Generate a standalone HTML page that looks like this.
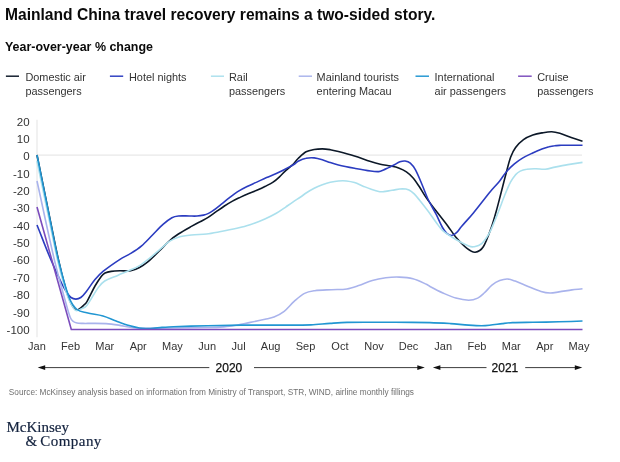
<!DOCTYPE html>
<html><head><meta charset="utf-8"><title>Mainland China travel recovery</title>
<style>
html,body{margin:0;padding:0;background:#fff}
body{width:620px;height:462px;position:relative;overflow:hidden;font-family:"Liberation Sans",sans-serif;color:#111}
.t{position:absolute;left:5px;top:5.9px;font-size:15.6px;font-weight:bold;line-height:18px;white-space:nowrap;color:#0a0a0a}
.s{position:absolute;left:5px;top:39.5px;font-size:12.45px;font-weight:bold;line-height:14px;white-space:nowrap;color:#0a0a0a}
.lg{position:absolute;top:70.9px;font-size:10.9px;line-height:13.7px;color:#333;white-space:nowrap}
.src{position:absolute;left:8.8px;top:386.8px;font-size:8.27px;line-height:11px;color:#707070;white-space:nowrap}
.mk{position:absolute;font-family:"Liberation Serif",serif;font-size:15px;line-height:16px;color:#14233f;white-space:nowrap;-webkit-text-stroke:0.2px #14233f}
</style></head><body>
<svg width="620" height="462" viewBox="0 0 620 462" style="position:absolute;left:0;top:0">
<line x1="37" y1="119.7" x2="37" y2="337.3" stroke="#e8e8e8" stroke-width="1.2"/>
<line x1="37" y1="155.1" x2="582" y2="155.1" stroke="#e8e8e8" stroke-width="1.2"/>
<path d="M37.0,155.0 C41.7,178.0 46.3,201.2 51.0,224.0 C53.5,236.2 56.0,249.0 58.5,260.0 C60.8,270.3 63.2,279.7 65.5,288.0 C67.0,293.3 68.5,297.3 70.0,301.0 C71.1,303.7 72.2,305.8 73.3,307.3 C74.4,308.8 75.5,309.8 76.6,310.0 C77.7,310.2 78.9,309.2 80.0,308.5 C81.1,307.8 82.2,306.7 83.3,305.6 C84.5,304.5 85.6,303.8 86.8,301.8 C89.5,297.2 92.3,290.8 95.0,286.0 C97.1,282.3 99.3,279.0 101.4,276.2 C102.6,274.6 103.8,273.6 105.0,273.0 C107.1,272.0 109.1,271.7 111.2,271.4 C114.1,271.0 117.1,270.9 120.0,270.8 C123.6,270.7 127.2,271.4 130.8,270.8 C133.7,270.3 136.6,269.0 139.5,267.5 C142.4,266.0 145.2,264.1 148.1,261.7 C151.7,258.7 155.4,254.8 159.0,251.3 C162.6,247.8 166.2,243.7 169.8,240.5 C172.7,237.9 175.5,235.9 178.4,234.0 C182.7,231.2 187.1,228.8 191.4,226.4 C194.3,224.8 197.1,223.3 200.0,221.8 C202.7,220.3 205.4,219.1 208.1,217.4 C210.8,215.7 213.5,213.6 216.2,211.7 C218.9,209.8 221.7,207.8 224.4,206.0 C227.1,204.2 229.8,202.6 232.5,201.1 C235.2,199.6 237.9,198.4 240.6,197.1 C243.3,195.8 246.0,194.6 248.7,193.5 C251.4,192.4 254.1,191.5 256.8,190.3 C259.5,189.1 262.2,187.9 264.9,186.5 C267.6,185.1 270.4,183.9 273.1,182.1 C275.2,180.7 277.4,178.8 279.5,176.8 C281.7,174.8 283.8,172.3 286.0,170.3 C288.2,168.3 290.3,166.9 292.5,164.8 C294.4,163.0 296.2,160.3 298.1,158.5 C300.8,156.0 303.4,153.3 306.1,151.8 C308.8,150.3 311.5,150.0 314.2,149.5 C316.9,149.0 319.6,148.9 322.3,148.9 C325.0,148.9 327.6,149.3 330.3,149.7 C333.0,150.2 335.7,150.9 338.4,151.6 C343.8,153.0 349.1,154.4 354.5,156.1 C359.9,157.8 365.2,159.9 370.6,161.6 C373.8,162.6 377.1,163.5 380.3,164.2 C383.8,165.0 387.3,165.3 390.8,166.0 C393.4,166.5 396.0,166.9 398.6,167.9 C401.2,168.9 403.8,170.0 406.4,171.8 C408.6,173.3 410.7,175.2 412.9,177.7 C415.1,180.2 417.2,183.5 419.4,186.8 C421.5,190.0 423.7,194.0 425.8,197.1 C429.3,202.1 432.7,206.5 436.2,211.0 C440.0,216.0 443.8,220.6 447.6,225.7 C450.3,229.3 453.0,233.8 455.7,237.0 C459.5,241.4 463.2,245.5 467.0,248.4 C469.7,250.5 472.5,252.5 475.2,252.2 C477.9,251.9 480.6,251.0 483.3,246.8 C486.0,242.7 488.7,234.7 491.4,227.3 C493.0,222.8 494.7,216.8 496.3,211.0 C497.7,206.0 499.1,200.4 500.5,195.0 C502.2,188.5 503.9,181.5 505.6,175.2 C507.3,169.0 508.9,161.9 510.6,157.3 C512.3,152.7 513.9,149.9 515.6,147.6 C518.2,144.0 520.9,141.6 523.5,139.7 C526.6,137.4 529.7,136.2 532.8,135.1 C535.8,134.0 538.9,133.4 541.9,132.9 C545.2,132.3 548.4,131.6 551.7,131.7 C554.4,131.8 557.1,132.5 559.8,133.3 C563.6,134.4 567.4,136.2 571.2,137.5 C575.0,138.8 578.7,140.0 582.5,141.2" fill="none" stroke="#0c1828" stroke-width="1.6" stroke-linejoin="miter"/>
<path d="M37.0,225.0 C41.7,236.7 46.3,249.0 51.0,260.0 C54.7,268.7 58.3,276.4 62.0,284.0 C63.5,287.1 65.0,289.8 66.5,292.0 C68.0,294.2 69.5,296.4 71.0,297.5 C72.6,298.7 74.3,299.1 75.9,299.1 C77.5,299.1 79.2,298.6 80.8,297.5 C82.5,296.3 84.3,294.2 86.0,292.0 C89.0,288.2 92.0,283.1 95.0,279.5 C97.7,276.3 100.3,273.6 103.0,271.4 C108.7,266.8 114.3,263.0 120.0,259.3 C123.6,257.0 127.2,255.6 130.8,253.4 C134.4,251.2 138.0,249.0 141.6,245.9 C145.2,242.8 148.9,238.6 152.5,235.0 C156.1,231.4 159.7,227.4 163.3,224.2 C166.2,221.6 169.0,219.3 171.9,217.7 C174.1,216.5 176.2,216.2 178.4,216.0 C182.0,215.6 185.7,216.0 189.3,216.0 C191.9,216.0 194.4,216.2 197.0,216.0 C199.2,215.9 201.3,215.6 203.5,215.1 C205.2,214.7 206.8,214.2 208.5,213.4 C210.0,212.7 211.5,211.8 213.0,210.7 C215.7,208.8 218.4,206.5 221.1,204.4 C223.8,202.3 226.5,200.0 229.2,197.9 C231.9,195.8 234.6,193.6 237.3,191.9 C240.6,189.8 243.8,188.1 247.1,186.5 C250.3,184.9 253.6,183.6 256.8,182.1 C260.1,180.6 263.3,179.0 266.6,177.6 C269.8,176.2 273.1,175.0 276.3,173.5 C279.5,172.0 282.8,170.4 286.0,168.7 C288.7,167.3 291.5,165.9 294.2,164.2 C295.5,163.4 296.8,161.8 298.1,161.2 C300.8,159.9 303.4,158.8 306.1,158.3 C308.8,157.7 311.5,157.7 314.2,157.9 C316.9,158.2 319.6,159.0 322.3,159.8 C325.0,160.6 327.6,161.7 330.3,162.6 C333.0,163.5 335.7,164.4 338.4,165.0 C343.8,166.3 349.1,167.3 354.5,168.3 C359.9,169.3 365.2,170.3 370.6,171.0 C373.3,171.4 376.0,171.8 378.7,171.6 C380.3,171.5 381.9,170.7 383.5,170.0 C385.2,169.3 386.8,168.4 388.5,167.6 C390.1,166.8 391.8,166.1 393.4,165.3 C395.6,164.2 397.7,162.6 399.9,161.8 C401.6,161.2 403.4,160.8 405.1,161.0 C406.8,161.2 408.6,161.6 410.3,163.1 C412.0,164.6 413.8,166.7 415.5,169.9 C417.6,173.8 419.8,179.2 421.9,184.2 C424.1,189.3 426.2,195.4 428.4,200.0 C431.0,205.5 433.6,209.3 436.2,214.4 C438.3,218.5 440.4,223.8 442.5,227.5 C443.9,230.1 445.4,232.1 446.8,233.3 C448.4,234.7 450.1,235.6 451.7,235.5 C453.3,235.4 454.9,234.2 456.5,232.7 C458.2,231.2 459.8,228.4 461.5,226.5 C465.5,221.8 469.6,217.6 473.6,212.7 C479.1,206.1 484.5,198.7 490.0,192.0 C493.2,188.1 496.5,184.9 499.7,180.9 C501.9,178.2 504.0,174.5 506.2,172.0 C508.9,168.8 511.7,166.2 514.4,163.9 C517.1,161.6 519.8,159.7 522.5,158.1 C525.7,156.2 529.0,154.7 532.2,153.2 C535.4,151.7 538.7,150.3 541.9,149.1 C544.3,148.2 546.6,147.4 549.0,146.8 C550.8,146.3 552.7,145.9 554.5,145.7 C556.7,145.4 558.8,145.4 561.0,145.3 C564.0,145.2 567.0,145.3 570.0,145.3 C574.2,145.3 578.3,145.3 582.5,145.3" fill="none" stroke="#2b3cc0" stroke-width="1.6" stroke-linejoin="miter"/>
<path d="M37.0,161.0 C41.3,182.0 45.7,203.1 50.0,224.0 C52.5,236.1 55.0,249.3 57.5,260.0 C60.0,270.7 62.5,279.6 65.0,288.0 C66.7,293.6 68.3,298.5 70.0,302.0 C71.8,305.9 73.7,309.1 75.5,310.3 C77.3,311.5 79.2,309.8 81.0,309.0 C82.9,308.2 84.9,307.9 86.8,305.5 C90.6,300.8 94.4,292.8 98.2,287.6 C100.4,284.6 102.5,282.4 104.7,281.0 C109.0,278.3 113.4,277.2 117.7,275.4 C121.4,273.8 125.0,272.4 128.7,270.8 C132.3,269.2 135.9,267.8 139.5,265.6 C143.1,263.4 146.7,260.5 150.3,257.6 C153.9,254.7 157.5,251.4 161.1,248.4 C164.0,246.0 166.9,243.1 169.8,241.2 C172.7,239.3 175.5,238.0 178.4,237.2 C182.7,236.0 187.1,235.5 191.4,235.0 C196.5,234.4 201.5,234.6 206.6,234.0 C210.9,233.5 215.3,232.6 219.6,231.8 C225.4,230.7 231.1,229.6 236.9,228.3 C241.3,227.3 245.6,226.3 250.0,224.8 C255.0,223.2 259.9,221.2 264.9,219.0 C268.7,217.3 272.5,215.5 276.3,213.3 C279.5,211.4 282.8,209.0 286.0,206.8 C288.7,204.9 291.5,202.9 294.2,201.1 C296.3,199.7 298.5,198.5 300.6,197.0 C302.4,195.8 304.3,194.2 306.1,193.0 C308.8,191.3 311.5,189.7 314.2,188.3 C316.9,186.9 319.6,185.8 322.3,184.8 C325.0,183.8 327.6,182.9 330.3,182.3 C333.0,181.7 335.7,181.2 338.4,181.0 C341.1,180.8 343.8,180.7 346.5,181.0 C349.2,181.3 351.8,181.8 354.5,182.6 C357.2,183.4 359.9,184.8 362.6,185.9 C365.3,187.0 367.9,188.2 370.6,189.1 C373.3,190.0 376.0,191.0 378.7,191.5 C380.3,191.8 381.9,191.7 383.5,191.6 C386.4,191.3 389.2,190.7 392.1,190.3 C395.6,189.8 399.0,188.8 402.5,188.7 C404.7,188.7 406.8,189.0 409.0,190.0 C410.7,190.8 412.5,192.2 414.2,193.9 C415.9,195.6 417.7,197.9 419.4,200.0 C422.3,203.6 425.1,207.2 428.0,211.0 C430.7,214.7 433.5,218.9 436.2,222.5 C438.4,225.4 440.5,228.8 442.7,230.6 C447.6,234.7 452.4,237.4 457.3,240.3 C461.1,242.6 464.9,244.5 468.7,246.0 C470.3,246.7 472.0,247.1 473.6,246.8 C476.3,246.3 479.0,246.0 481.7,243.6 C484.4,241.2 487.1,237.3 489.8,232.2 C492.5,227.0 495.3,219.5 498.0,212.7 C500.3,207.1 502.5,200.5 504.8,195.0 C506.7,190.3 508.6,185.7 510.5,182.1 C512.1,179.0 513.8,176.8 515.4,174.9 C517.0,173.1 518.6,171.9 520.2,171.1 C522.4,170.0 524.5,169.5 526.7,169.2 C529.8,168.7 532.9,168.8 536.0,168.8 C539.1,168.8 542.1,169.5 545.2,169.2 C548.4,168.9 551.7,167.8 554.9,167.1 C559.2,166.2 563.6,165.3 567.9,164.6 C572.8,163.8 577.6,163.1 582.5,162.4" fill="none" stroke="#abe0ed" stroke-width="1.6" stroke-linejoin="miter"/>
<path d="M37.0,181.0 C42.8,207.3 48.6,235.5 54.4,260.0 C58.3,276.3 62.1,289.5 66.0,303.5 C67.4,308.7 68.9,314.0 70.3,317.5 C71.3,320.0 72.3,320.7 73.3,321.5 C74.5,322.5 75.8,322.8 77.0,323.0 C79.0,323.4 81.0,323.3 83.0,323.4 C85.3,323.5 87.7,323.4 90.0,323.4 C95.3,323.4 100.7,323.3 106.0,323.6 C110.2,323.9 114.5,324.5 118.7,325.1 C123.0,325.8 127.3,326.9 131.6,327.5 C134.2,327.9 136.8,328.2 139.4,328.2 C150.8,328.3 162.1,328.1 173.5,328.0 C184.9,327.9 196.2,327.7 207.6,327.5 C211.7,327.4 215.9,327.4 220.0,327.1 C224.0,326.8 228.0,326.5 232.0,325.9 C238.1,325.0 244.2,323.6 250.3,322.4 C255.2,321.4 260.1,320.4 265.0,319.3 C268.0,318.6 271.0,318.3 274.0,317.1 C277.4,315.7 280.8,314.0 284.2,311.4 C287.6,308.8 291.0,304.2 294.4,301.2 C297.8,298.2 301.1,295.1 304.5,293.4 C307.9,291.6 311.3,291.2 314.7,290.7 C320.3,289.9 326.0,290.0 331.6,289.7 C336.7,289.4 341.8,289.8 346.9,289.0 C350.8,288.4 354.8,286.9 358.7,285.6 C363.2,284.1 367.8,281.8 372.3,280.5 C376.8,279.2 381.3,278.4 385.8,277.8 C390.3,277.2 394.9,276.9 399.4,277.1 C403.9,277.3 408.4,277.6 412.9,278.8 C417.4,280.0 422.0,282.3 426.5,284.3 C427.7,284.8 428.8,285.9 430.0,286.5 C434.3,288.8 438.6,291.1 442.9,293.0 C447.2,294.9 451.5,296.9 455.8,298.1 C460.1,299.3 464.4,300.2 468.7,300.2 C471.7,300.2 474.7,299.5 477.7,298.1 C479.9,297.1 482.0,295.0 484.2,293.0 C486.8,290.7 489.3,287.3 491.9,285.2 C494.5,283.1 497.1,281.6 499.7,280.6 C502.3,279.6 504.8,278.9 507.4,279.0 C510.0,279.1 512.6,280.2 515.2,281.1 C519.5,282.7 523.8,284.8 528.1,286.5 C532.4,288.2 536.7,290.1 541.0,291.4 C544.0,292.3 547.0,292.9 550.0,293.0 C553.0,293.1 556.0,292.3 559.0,291.9 C563.3,291.3 567.6,290.5 571.9,289.9 C575.4,289.4 579.0,289.2 582.5,288.8" fill="none" stroke="#a9b3ec" stroke-width="1.6" stroke-linejoin="miter"/>
<path d="M37.0,155.0 C41.7,178.3 46.4,201.9 51.1,225.0 C53.5,236.9 56.0,250.2 58.4,260.0 C61.9,274.3 65.5,287.9 69.0,297.3 C71.7,304.4 74.3,307.2 77.0,309.5 C80.3,312.3 83.5,312.0 86.8,312.8 C92.2,314.2 97.6,314.5 103.0,316.0 C107.4,317.2 111.7,319.4 116.1,321.0 C120.4,322.6 124.7,324.3 129.0,325.6 C132.5,326.6 135.9,327.4 139.4,328.0 C141.6,328.4 143.8,328.5 146.0,328.5 C148.3,328.6 150.7,328.5 153.0,328.3 C156.0,328.1 159.0,327.6 162.0,327.4 C165.8,327.1 169.7,326.8 173.5,326.7 C184.9,326.3 196.2,326.0 207.6,325.7 C219.0,325.4 230.4,325.2 241.8,325.1 C253.1,325.0 264.5,325.1 275.9,325.1 C287.6,325.1 299.3,325.3 311.0,324.9 C317.3,324.7 323.7,323.8 330.0,323.4 C335.7,323.0 341.3,322.5 347.0,322.4 C357.3,322.2 367.7,322.3 378.0,322.3 C389.3,322.3 400.7,322.3 412.0,322.4 C418.0,322.4 424.0,322.4 430.0,322.6 C436.9,322.8 443.7,323.2 450.6,323.6 C456.6,324.0 462.7,324.7 468.7,325.1 C473.0,325.4 477.3,325.7 481.6,325.7 C484.2,325.7 486.8,325.5 489.4,325.2 C493.7,324.8 498.0,324.1 502.3,323.6 C505.7,323.2 509.2,322.7 512.6,322.6 C519.4,322.3 526.2,322.4 533.0,322.3 C541.7,322.2 550.3,322.0 559.0,321.8 C566.8,321.6 574.7,321.3 582.5,321.0" fill="none" stroke="#2196d2" stroke-width="1.6" stroke-linejoin="miter"/>
<path d="M37.0,207.0 L71.3,329.5 L582.5,329.5" fill="none" stroke="#7b4cbc" stroke-width="1.6" stroke-linejoin="miter"/>
<line x1="5.9" y1="76.2" x2="19" y2="76.2" stroke="#0c1828" stroke-width="1.45"/>
<line x1="109.9" y1="76.2" x2="123.2" y2="76.2" stroke="#2b3cc0" stroke-width="1.45"/>
<line x1="210.9" y1="76.2" x2="224" y2="76.2" stroke="#abe0ed" stroke-width="1.45"/>
<line x1="298.7" y1="76.2" x2="312" y2="76.2" stroke="#a9b3ec" stroke-width="1.45"/>
<line x1="415.5" y1="76.2" x2="429" y2="76.2" stroke="#2196d2" stroke-width="1.45"/>
<line x1="518.1" y1="76.2" x2="531.7" y2="76.2" stroke="#7b4cbc" stroke-width="1.45"/>
<g stroke="#1a1a1a" stroke-width="0.85" fill="#111">
<line x1="43" y1="367.6" x2="209.3" y2="367.6"/><line x1="254" y1="367.6" x2="419" y2="367.6"/>
<line x1="438" y1="367.6" x2="486.5" y2="367.6"/><line x1="525.2" y1="367.6" x2="577" y2="367.6"/>
<path d="M37.7,367.6 L45.2,365.2 L45.2,370Z" stroke="none"/>
<path d="M424.8,367.6 L417.3,365.2 L417.3,370Z" stroke="none"/>
<path d="M432.9,367.6 L440.4,365.2 L440.4,370Z" stroke="none"/>
<path d="M582.3,367.6 L574.8,365.2 L574.8,370Z" stroke="none"/>
</g>
<g font-family="Liberation Sans, sans-serif" font-size="11.5" fill="#333" text-anchor="end">
<text x="29.6" y="125.5">20</text>
<text x="29.6" y="142.8">10</text>
<text x="29.6" y="160.2">0</text>
<text x="29.6" y="177.5">-10</text>
<text x="29.6" y="194.9">-20</text>
<text x="29.6" y="212.3">-30</text>
<text x="29.6" y="229.6">-40</text>
<text x="29.6" y="247.0">-50</text>
<text x="29.6" y="264.4">-60</text>
<text x="29.6" y="281.7">-70</text>
<text x="29.6" y="299.1">-80</text>
<text x="29.6" y="316.7">-90</text>
<text x="29.6" y="333.8">-100</text>
</g>
<g font-family="Liberation Sans, sans-serif" font-size="11" fill="#333" text-anchor="middle">
<text x="36.9" y="350.3">Jan</text>
<text x="70.6" y="350.3">Feb</text>
<text x="104.7" y="350.3">Mar</text>
<text x="138.2" y="350.3">Apr</text>
<text x="172.4" y="350.3">May</text>
<text x="207.2" y="350.3">Jun</text>
<text x="238.6" y="350.3">Jul</text>
<text x="270.6" y="350.3">Aug</text>
<text x="305.5" y="350.3">Sep</text>
<text x="339.9" y="350.3">Oct</text>
<text x="374" y="350.3">Nov</text>
<text x="408.5" y="350.3">Dec</text>
<text x="443.2" y="350.3">Jan</text>
<text x="476.9" y="350.3">Feb</text>
<text x="511.3" y="350.3">Mar</text>
<text x="544.8" y="350.3">Apr</text>
<text x="579" y="350.3">May</text>
</g>
<g font-family="Liberation Sans, sans-serif" font-size="12" fill="#111" stroke="#111" stroke-width="0.25" text-anchor="middle">
<text x="228.9" y="371.8">2020</text><text x="504.9" y="371.8">2021</text>
</g>
</svg>
<div class="t">Mainland China travel recovery remains a two-sided story.</div>
<div class="s">Year-over-year % change</div>
<div class="lg" style="left:25.4px">Domestic air<br>passengers</div>
<div class="lg" style="left:129px">Hotel nights<br></div>
<div class="lg" style="left:229px">Rail<br>passengers</div>
<div class="lg" style="left:316.6px">Mainland tourists<br>entering Macau</div>
<div class="lg" style="left:434.6px">International<br>air passengers</div>
<div class="lg" style="left:537.2px">Cruise<br>passengers</div>

<div class="src">Source: McKinsey analysis based on information from Ministry of Transport, STR, WIND, airline monthly fillings</div>
<div class="mk" style="left:6.5px;top:418.5px">McKinsey</div>
<div class="mk" style="left:25.6px;top:433.3px;letter-spacing:0.45px;word-spacing:-1.6px">&amp; Company</div>
</body></html>
